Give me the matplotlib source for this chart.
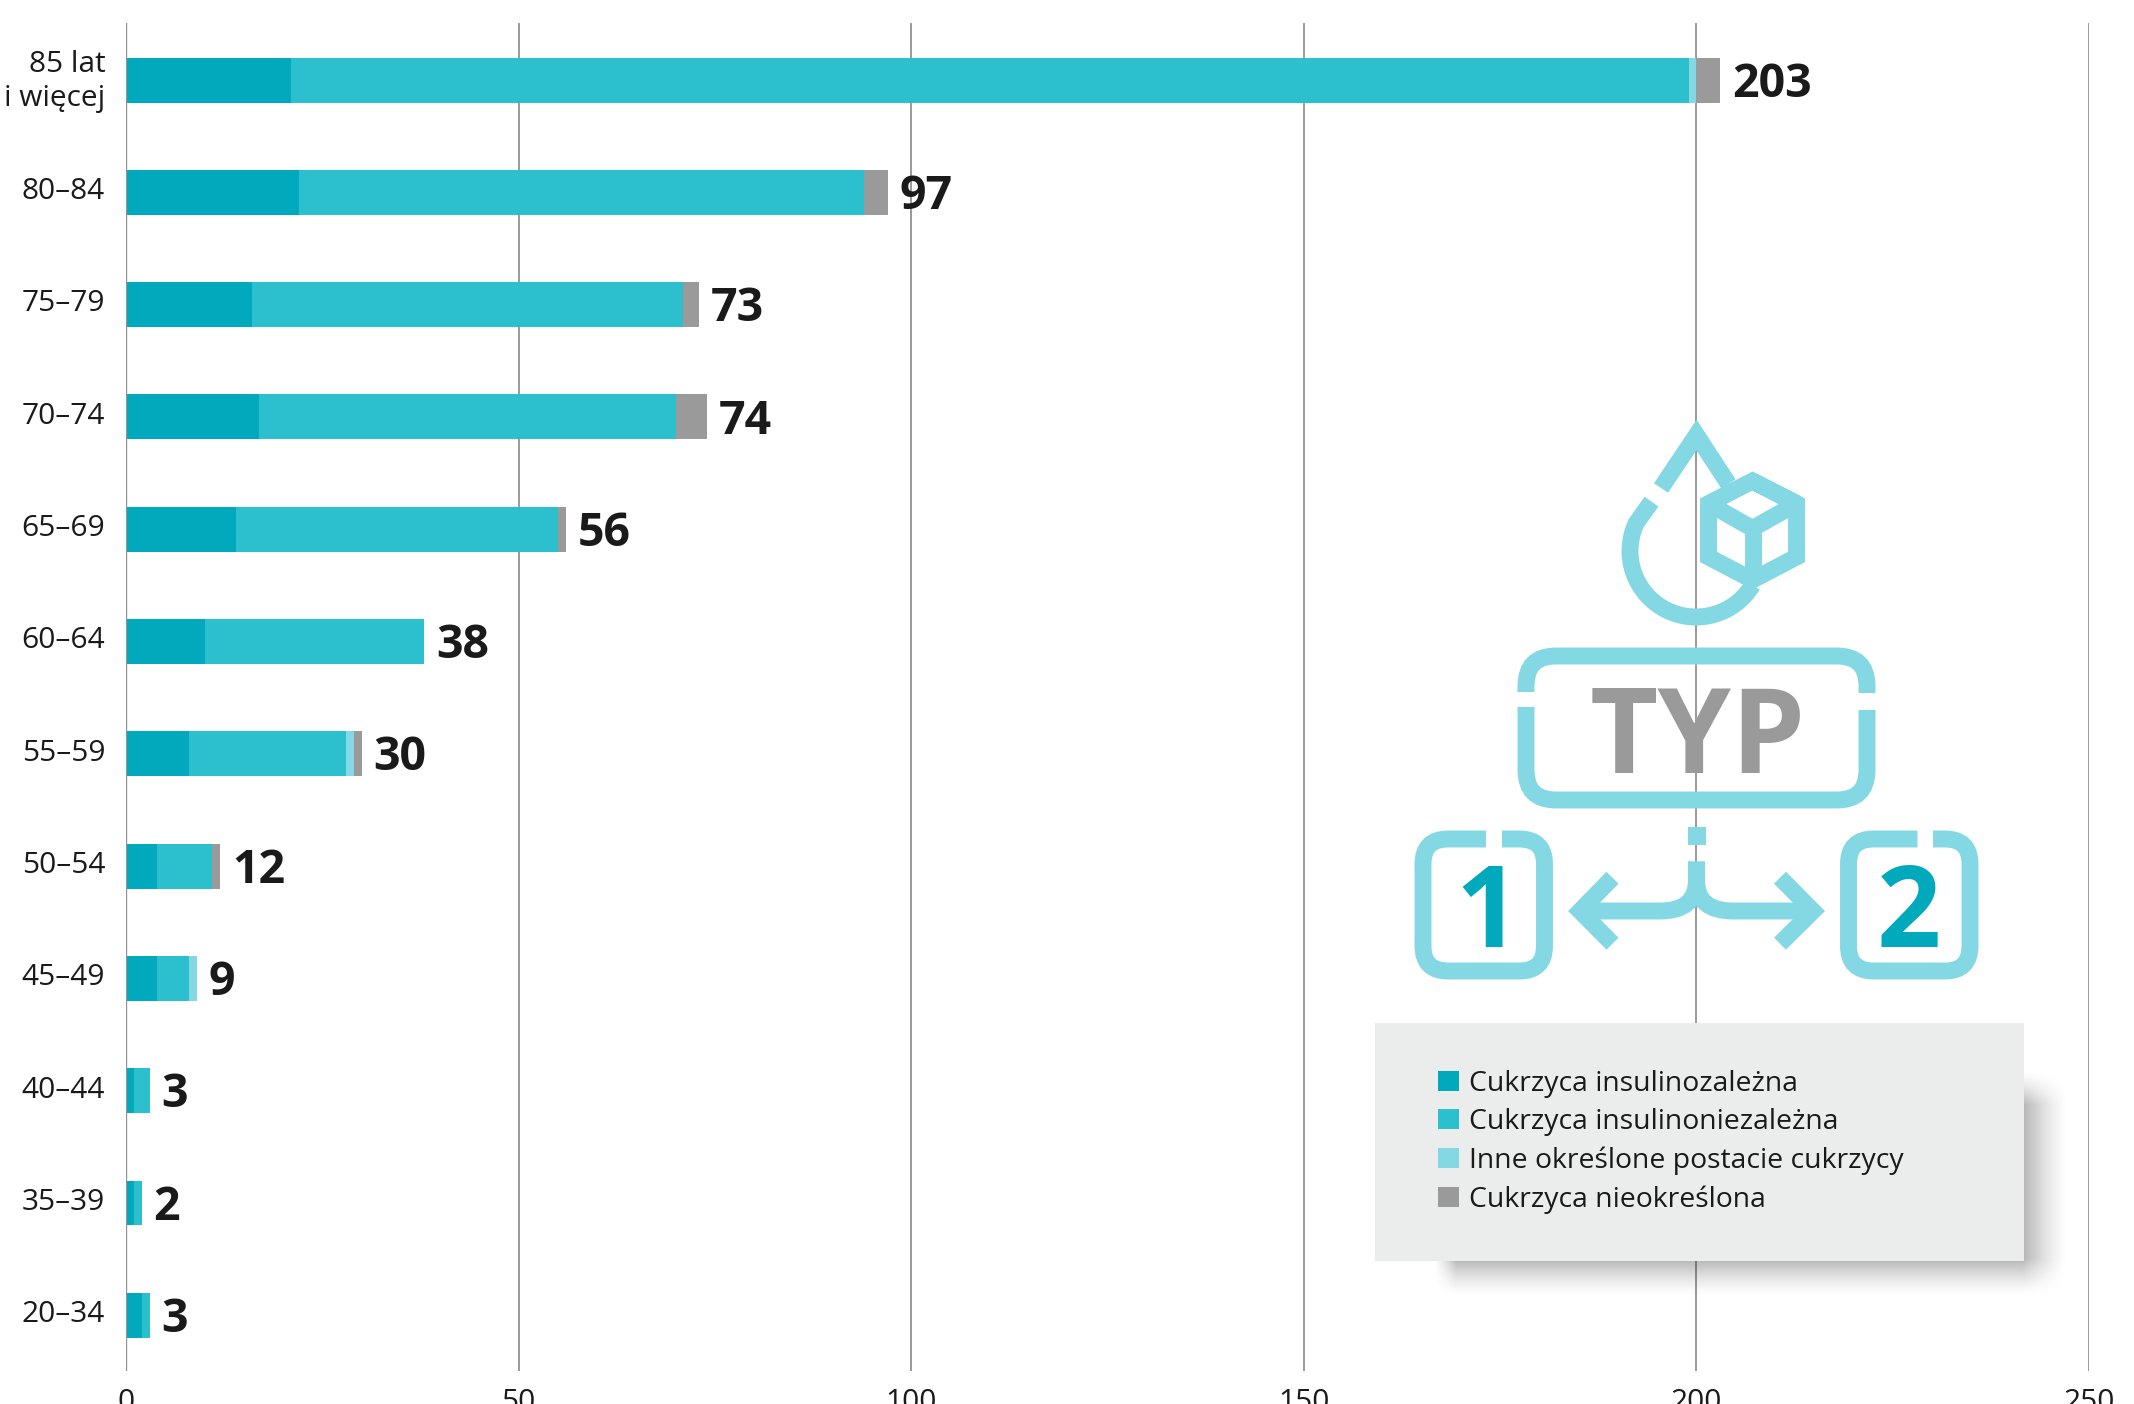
import numpy as np
from matplotlib import pyplot as plt
from matplotlib.path import Path
from matplotlib.patches import PathPatch, Rectangle
from matplotlib.transforms import ScaledTranslation

plt.rcParams['font.family'] = ['Open Sans', 'DejaVu Sans']

# dane
grupy = ["85 lat\ni więcej", "80–84", "75–79", "70–74", "65–69", "60–64",
         "55–59", "50–54", "45–49", "40–44", "35–39", "20–34"]
insulinozalezna = [21, 22, 16, 17, 14, 10, 8, 4, 4, 1, 1, 2]
insulinoniezalezna = [178, 72, 55, 53, 41, 28, 20, 7, 4, 2, 1, 1]
inne = [1, 0, 0, 0, 0, 0, 1, 0, 1, 0, 0, 0]
nieokreslona = [3, 3, 2, 4, 1, 0, 1, 1, 0, 0, 0, 0]
razem = [203, 97, 73, 74, 56, 38, 30, 12, 9, 3, 2, 3]
x_ticks = [0, 50, 100, 150, 200, 250]
nazwy = ["Cukrzyca insulinozależna", "Cukrzyca insulinoniezależna",
         "Inne określone postacie cukrzycy", "Cukrzyca nieokreślona"]
serie = [insulinozalezna, insulinoniezalezna, inne, nieokreslona]
kolory = ["#00A9BC", "#2CC0CF", "#84D8E3", "#9A9A9A"]
TEKST = "#1A1A1A"
IKONA = "#84D8E3"

W, H = 2134, 1404
fig = plt.figure(figsize=(W / 100, H / 100), dpi=100)
ax = fig.add_axes([126 / W, (H - 1371) / H, 1963 / W, 1348 / H])
y = np.arange(len(grupy))
left = np.zeros(len(grupy))
slupki = []
for s, k, n in zip(serie, kolory, nazwy):
    slupki.append(ax.barh(y, s, left=left, height=0.4, color=k, label=n, zorder=3))
    left = left + np.array(s)

for i in range(len(grupy)):
    ax.annotate(str(razem[i]), (left[i], y[i]), xytext=(8.5, -3), textcoords='offset points',
                va='center', ha='left', fontsize=33.5, fontweight='bold', color=TEKST, zorder=4)

ax.set_xlim(0, 250)
ax.set_ylim(11.496, -0.508)
ax.set_xticks(x_ticks)
ax.set_yticks(y)
ax.set_yticklabels(grupy, linespacing=1.2)
ax.tick_params(axis='both', length=0, labelsize=21.5, labelcolor=TEKST)
ax.tick_params(axis='y', pad=15)
ax.tick_params(axis='x', pad=12)
podnies = ScaledTranslation(0, 3 / 72, fig.dpi_scale_trans)
for lab in ax.get_yticklabels():
    lab.set_transform(lab.get_transform() + podnies)
ax.grid(axis='x', color="#929292", lw=1.3, zorder=1)
for sp in ax.spines.values():
    sp.set_visible(False)
ax.axvline(0, color="#929292", lw=1.7, zorder=5)

# warstwa w pikselach: ikona i ramka legendy
ov = fig.add_axes([0, 0, 1, 1], facecolor='none')
ov.set_xlim(0, W)
ov.set_ylim(H, 0)
ov.axis('off')

# cien ramki
x0, x1, y0, y1 = 1432, 2068, 1070, 1296
xx = np.arange(x0, x1)
yy = np.arange(y0, y1)
ramp_x = np.minimum(np.clip((xx - x0) / 24, 0, 1), np.clip((x1 - xx) / 46, 0, 1))
ramp_y = np.minimum(np.clip((yy - y0) / 34, 0, 1), np.clip((y1 - yy) / 38, 0, 1))
cien = np.zeros((len(yy), len(xx), 4))
cien[..., 3] = np.outer(ramp_y, ramp_x) ** 1.4 * 0.3
ov.imshow(cien, extent=(x0, x1, y1, y0), aspect='auto', zorder=1, interpolation='bilinear')
ov.set_xlim(0, W)
ov.set_ylim(H, 0)
ov.add_patch(Rectangle((1375, 1023), 649, 238, facecolor="#EBEDEC", edgecolor='none', zorder=2))
leg = ov.legend(slupki, nazwy, loc='upper left', bbox_to_anchor=(1438, 1070),
                bbox_transform=ov.transData, frameon=False, fontsize=20.4, borderpad=0,
                borderaxespad=0, handlelength=0.74, handleheight=0.72, handletextpad=0.36,
                labelspacing=0.36, labelcolor=TEKST)
leg.set_zorder(3)


def linia(pts, kody=None, lw=12.2, join='miter'):
    if kody is None:
        kody = [Path.MOVETO] + [Path.LINETO] * (len(pts) - 1)
    ov.add_patch(PathPatch(Path(pts, kody), facecolor='none', edgecolor=IKONA, lw=lw,
                           capstyle='butt', joinstyle=join, zorder=2))


M, L, C = Path.MOVETO, Path.LINETO, Path.CURVE3

# kropla
linia([(1661, 488), (1696.5, 435), (1728.5, 484)])
t = np.radians(np.linspace(205, 31, 60))
luk = np.column_stack([1696 + 66 * np.cos(t), 551 + 66 * np.sin(t)])
linia(np.vstack([[(1651.5, 501.6)], luk]), join='round')

# kostka
linia([(1752.5, 481), (1796.5, 503.6), (1796.5, 557), (1752.5, 580), (1708.5, 557),
       (1708.5, 503.6), (1752.5, 481), (1796.5, 503.6)])
linia([(1708.5, 503.6), (1752.5, 528.5), (1796.5, 503.6)])
linia([(1752.5, 528.5), (1752.5, 580)])

# ramka TYP
linia([(1526, 692), (1526, 686), (1526, 656), (1556, 656), (1837, 656), (1867, 656), (1867, 686), (1867, 693)],
      [M, L, C, C, L, C, C, L])
linia([(1526, 707), (1526, 770), (1526, 800), (1556, 800), (1837, 800), (1867, 800), (1867, 770), (1867, 710)],
      [M, L, C, C, L, C, C, L])
ov.text(1698, 728, "TYP", ha='center', va='center_baseline', fontsize=85, fontweight='bold',
        color="#9A9A9A", zorder=3)

# ramki 1 i 2
for xa, xb, g0, g1, cyfra, xc in [(1423, 1544.5, 1486, 1502, "1", 1487),
                                  (1848.5, 1970, 1917.5, 1933, "2", 1909)]:
    linia([(g0, 839), (xa + 25, 839), (xa, 839), (xa, 864), (xa, 946), (xa, 971), (xa + 25, 971),
           (xb - 25, 971), (xb, 971), (xb, 946), (xb, 864), (xb, 839), (xb - 25, 839), (g1, 839)],
          [M, L, C, C, L, C, C, L, C, C, L, C, C, L])
    ov.text(xc, 904, cyfra, ha='center', va='center_baseline', fontsize=81, fontweight='bold',
            color=kolory[0], zorder=3)

# laczniki i strzalki
ov.add_patch(Rectangle((1688, 827), 17.5, 18, facecolor=IKONA, edgecolor='none', zorder=2))
linia([(1696.5, 861.5), (1696.5, 880), (1696.5, 911), (1660, 911), (1580, 911)], [M, L, C, C, L])
linia([(1696.5, 861.5), (1696.5, 880), (1696.5, 911), (1733, 911), (1813, 911)], [M, L, C, C, L])
linia([(1612.5, 877.7), (1580, 911), (1612.5, 943.7)])
linia([(1780, 877.7), (1813, 911), (1780, 943.7)])

fig.savefig("out.png", dpi=100)
